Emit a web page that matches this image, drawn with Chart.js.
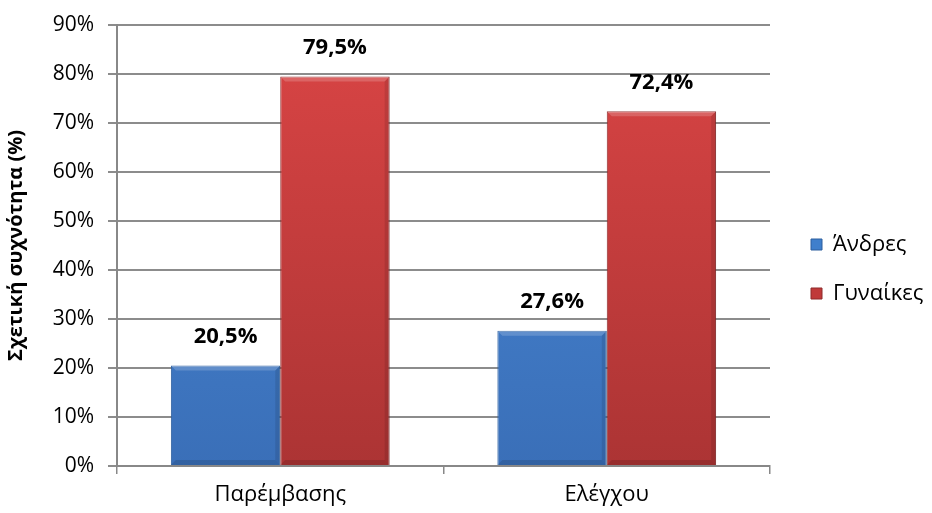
<!DOCTYPE html>
<html><head><meta charset="utf-8">
<script src="https://cdn.jsdelivr.net/npm/chart.js@4/dist/chart.umd.min.js"></script>
<style>html,body{margin:0;padding:0;background:#fff}#w{width:932px;height:513px}</style>
</head><body><div id="w"><canvas id="c"></canvas></div>
<script>
const categories = ["Παρέμβασης", "Ελέγχου"];
const seriesNames = ["Άνδρες", "Γυναίκες"];
const andres = [20.5, 27.6];
const gynaikes = [79.5, 72.4];
const yTicks = [0, 10, 20, 30, 40, 50, 60, 70, 80, 90];

const FONT = "'Open Sans','Noto Sans','DejaVu Sans',sans-serif";

function grad(ctx, top, bottom) {
  const c = ctx.chart.ctx;
  const area = ctx.chart.chartArea;
  if (!area) return top;
  const g = c.createLinearGradient(0, area.top, 0, area.bottom);
  g.addColorStop(0, top);
  g.addColorStop(1, bottom);
  return g;
}

const bevel = {
  id: 'bevel',
  afterDatasetsDraw(chart) {
    const c = chart.ctx;
    chart.data.datasets.forEach((ds, i) => {
      const meta = chart.getDatasetMeta(i);
      meta.data.forEach(bar => {
        const w = bar.width, x0 = bar.x - w / 2, x1 = bar.x + w / 2, t = bar.y, b = bar.base;
        const d = 5;
        c.save();
        c.fillStyle = 'rgba(255,255,255,0.18)';
        c.beginPath(); c.moveTo(x0, t); c.lineTo(x1, t); c.lineTo(x1 - d, t + d); c.lineTo(x0 + d, t + d); c.closePath(); c.fill();
        c.fillStyle = 'rgba(0,0,0,0.10)';
        c.beginPath(); c.moveTo(x1, t); c.lineTo(x1 - d, t + d); c.lineTo(x1 - d, b - d); c.lineTo(x1, b); c.closePath(); c.fill();
        c.fillStyle = 'rgba(0,0,0,0.12)';
        c.beginPath(); c.moveTo(x0, b); c.lineTo(x0 + d, b - d); c.lineTo(x1 - d, b - d); c.lineTo(x1, b); c.closePath(); c.fill();
        c.restore();
      });
    });
  },
  afterDraw(chart) {
    const c = chart.ctx;
    c.save();
    c.font = "bold 22px " + FONT;
    c.fillStyle = '#000';
    c.textAlign = 'center';
    c.textBaseline = 'middle';
    chart.data.datasets.forEach((ds, i) => {
      const meta = chart.getDatasetMeta(i);
      meta.data.forEach((bar, j) => {
        c.fillText(ds.data[j].toFixed(1).replace('.', ',') + '%', bar.x, bar.y - 29);
      });
    });
    c.restore();
  }
};

new Chart(document.getElementById('c'), {
  type: 'bar',
  data: {
    labels: categories,
    datasets: [
      { label: seriesNames[0], data: andres,
        backgroundColor: ctx => grad(ctx, '#4a8ad8', '#3a6fb8'),
        borderColor: '#2d5f9e', borderWidth: 1 },
      { label: seriesNames[1], data: gynaikes,
        backgroundColor: ctx => grad(ctx, '#da4545', '#ac3434'),
        borderColor: '#8e2a2a', borderWidth: 1 }
    ]
  },
  options: {
    responsive: true,
    maintainAspectRatio: false,
    animation: false,
    layout: { padding: { top: 25, right: 2, left: 4, bottom: 0 } },
    datasets: { bar: { categoryPercentage: 0.67, barPercentage: 1.0 } },
    plugins: {
      tooltip: { enabled: false },
      legend: {
        position: 'right',
        align: 'center',
        labels: {
          font: { family: FONT, size: 22 },
          color: '#000',
          boxWidth: 11, boxHeight: 11,
          padding: 27,
          generateLabels(chart) {
            return chart.data.datasets.map((ds, i) => ({
              text: ds.label,
              fillStyle: i === 0 ? '#3f7fcc' : '#c03a3a',
              strokeStyle: i === 0 ? '#2d5f9e' : '#8e2a2a',
              lineWidth: 1, datasetIndex: i, hidden: false
            }));
          }
        }
      }
    },
    scales: {
      x: {
        afterFit(axis) { axis.height = 47; },
        grid: { display: true, drawOnChartArea: false, offset: true, color: '#888', tickLength: 8, lineWidth: 1.5 },
        border: { color: '#888', width: 2 },
        ticks: { font: { family: FONT, size: 22 }, color: '#000', padding: 8 }
      },
      y: {
        min: 0, max: 90,
        afterFit(axis) { axis.width = 113; axis.paddingTop = 0; axis.paddingBottom = 0; },
        afterBuildTicks(axis) { axis.ticks = yTicks.map(v => ({ value: v })); },
        grid: { color: '#8c8c8c', lineWidth: 2, tickLength: 9 },
        border: { color: '#888', width: 2 },
        ticks: { font: { family: FONT, size: 21 }, color: '#000', padding: 14, callback: v => v + '%' },
        title: { display: true, text: 'Σχετική συχνότητα (%)', font: { family: FONT, size: 20, weight: 'bold' }, color: '#000', padding: { top: 0, bottom: 2 } }
      }
    }
  },
  plugins: [bevel, {
    id: 'legendBox',
    afterInit(chart) {
      const lg = chart.legend;
      const orig = lg.fit.bind(lg);
      lg.fit = function () { orig(); this.width = 160; };
    },
    afterLayout(chart) {
      const lg = chart.legend;
      lg.left += 14; lg.right += 14;
    }
  }]
});
</script></body></html>
